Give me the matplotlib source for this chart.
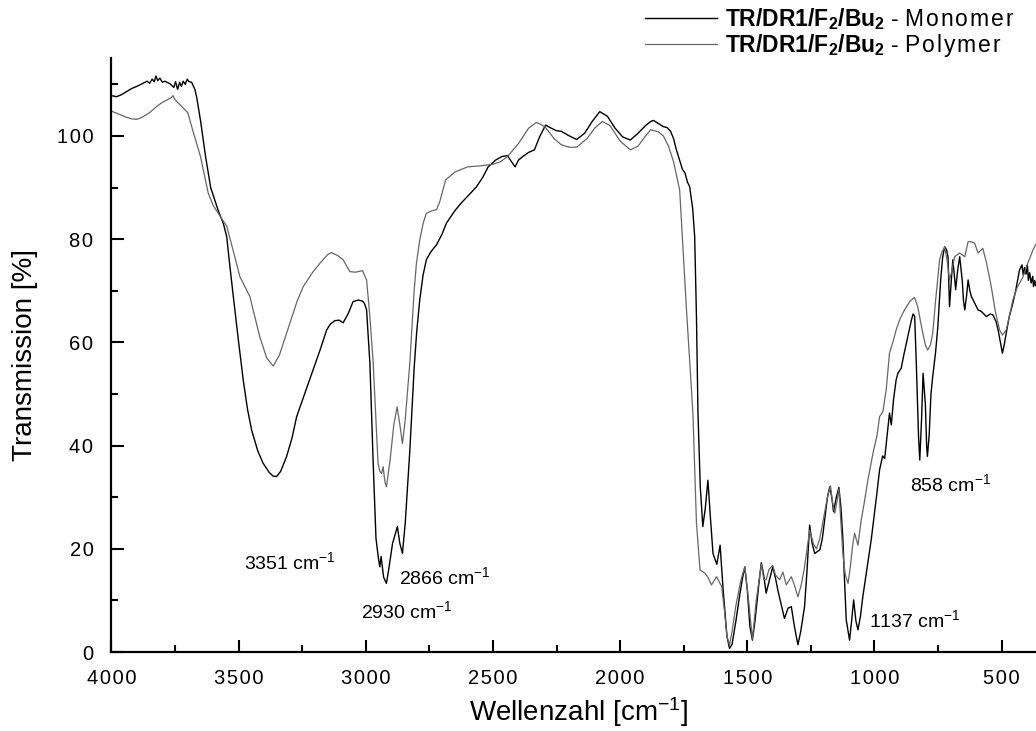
import numpy as np
import matplotlib
matplotlib.use('Agg')
import matplotlib.pyplot as plt
from matplotlib.ticker import FuncFormatter

# IR-Spektren TR/DR1/F2/Bu2, Monomer vs. Polymer
mono_wn = [4000, 3980, 3960, 3940, 3920, 3900, 3880, 3860, 3850, 3840, 3832, 3825, 3818, 3810, 3800,
           3790, 3770, 3755, 3748, 3740, 3732, 3725, 3718, 3710, 3702, 3695, 3685, 3672, 3665, 3650,
           3630, 3610, 3580, 3560, 3547, 3535, 3521,
           3500, 3482, 3465, 3449, 3425, 3404, 3380, 3365, 3351, 3335, 3312, 3290, 3272, 3255, 3240,
           3207, 3180, 3154, 3140, 3122, 3105, 3089, 3070, 3050, 3030, 3013, 3005, 2997, 2984, 2971,
           2960, 2950, 2945, 2940, 2930, 2919, 2910, 2895, 2876, 2866, 2856, 2845, 2827, 2810, 2800,
           2788, 2775, 2762, 2745, 2722, 2700, 2683, 2650, 2625, 2590, 2564, 2540, 2519, 2490, 2465,
           2443, 2430, 2413, 2400, 2383, 2360, 2337, 2316, 2293, 2275, 2250, 2232, 2200, 2171, 2140,
           2110, 2080, 2050, 2020, 1990, 1960, 1930, 1900, 1880, 1869, 1850, 1830, 1815, 1802, 1790,
           1780, 1766, 1755, 1745, 1735, 1727, 1715, 1707, 1700, 1694, 1685, 1675, 1665, 1655, 1645,
           1635, 1620, 1607, 1595, 1580, 1570, 1560, 1545, 1530, 1520, 1510, 1500, 1490, 1480, 1470,
           1455, 1445, 1436, 1426, 1413, 1400, 1390, 1380, 1368, 1354, 1340, 1327, 1315, 1301, 1290,
           1275, 1265, 1255, 1245, 1235, 1215, 1205, 1196, 1185, 1176, 1168, 1161, 1150, 1140, 1132,
           1124, 1118, 1111, 1098, 1090, 1082, 1073, 1065, 1055, 1046, 1030, 1013, 1000, 990, 980,
           968, 960, 948, 941, 934, 925, 915, 908, 895, 885, 875, 865, 855, 848, 842,
           835, 827, 822, 815, 809, 800, 795, 792, 785, 778, 771, 760, 751, 740, 732,
           724, 717, 711, 705, 698, 692, 686, 681, 673, 665, 655, 650, 645, 638, 632,
           625, 619, 605, 593, 580, 560, 545, 534, 522, 514, 505, 497, 490, 482, 470,
           456, 445, 430, 420, 415, 410, 404, 399, 395, 390, 384, 378, 375, 370, 367]
mono_t = [107.8, 107.6, 108.0, 108.6, 109.2, 109.6, 110.1, 110.6, 110.2, 111.0, 110.5, 111.6, 110.7, 111.2, 110.4,
          110.6, 110.1, 109.4, 110.5, 109.0, 110.4, 109.6, 110.6, 110.0, 111.0, 110.5, 110.4, 109.0, 107.5, 103.0,
          96.0, 90.0, 85.5, 83.0, 80.5, 75.0, 68.9,
          60.0, 52.7, 47.0, 43.0, 39.0, 36.6, 34.8, 34.1, 34.0, 35.0, 37.8, 41.5, 45.6, 48.0, 50.1,
          54.7, 58.5, 62.4, 63.5, 64.2, 64.3, 63.8, 65.5, 67.9, 68.2, 68.0, 67.5, 66.3, 56.0, 36.6,
          22.0, 18.0, 16.5, 18.5, 14.5, 13.3, 16.0, 21.0, 24.3, 21.0, 19.1, 25.0, 39.0, 55.0, 62.0,
          68.2, 73.0, 76.0, 77.5, 78.9, 81.0, 83.1, 85.5, 87.0, 88.8, 90.2, 92.0, 94.0, 95.3, 96.0,
          96.2, 95.2, 94.0, 95.3, 96.0, 96.8, 97.3, 99.9, 102.1, 101.6, 101.0, 100.9, 100.0, 99.3, 100.5,
          102.8, 104.7, 103.8, 101.5, 99.8, 99.2, 100.5, 102.0, 102.8, 103.0, 102.4, 101.8, 101.6, 100.9, 99.5,
          97.5, 95.3, 93.5, 92.8, 91.0, 90.2, 86.0, 80.5, 65.0, 46.3, 32.0, 24.3, 28.0, 33.3, 26.0,
          19.1, 17.0, 20.7, 12.0, 3.0, 0.7, 1.5, 6.0, 11.0, 14.0, 16.5, 12.0, 5.0, 2.3, 6.0,
          13.0, 17.3, 15.0, 11.4, 14.0, 16.5, 14.5, 12.0, 9.5, 6.5, 8.5, 8.8, 5.0, 1.4, 4.0,
          8.8, 16.0, 24.6, 21.0, 19.1, 19.8, 22.0, 25.6, 30.0, 32.0, 30.0, 27.2, 30.0, 31.9, 28.0,
          21.7, 14.0, 6.2, 2.3, 6.0, 10.1, 6.0, 4.3, 7.0, 10.7, 16.0, 21.7, 26.9, 31.0, 35.3,
          38.0, 37.5, 43.0, 46.3, 44.0, 49.0, 52.7, 54.0, 55.0, 57.5, 59.8, 62.0, 64.3, 65.5, 65.0,
          55.0, 42.0, 37.2, 45.0, 54.0, 48.0, 40.0, 37.9, 42.0, 50.0, 53.4, 58.0, 63.0, 72.0, 76.5,
          78.5, 78.0, 76.6, 66.9, 72.0, 76.0, 73.0, 70.2, 74.0, 76.6, 72.0, 68.0, 66.3, 69.0, 72.1,
          70.0, 68.9, 67.5, 66.3, 66.0, 65.0, 65.5, 65.3, 64.0, 62.4, 60.0, 57.9, 59.5, 61.8, 65.0,
          67.6, 70.0, 74.0, 75.0, 73.0, 74.5, 73.2, 75.0, 72.0, 73.5, 71.5, 72.8, 70.8, 72.0, 71.0]

poly_wn = [4000, 3970, 3940, 3920, 3900, 3880, 3850, 3820, 3800, 3780, 3765, 3758, 3750, 3740, 3720,
           3700, 3680, 3650, 3620, 3600, 3580, 3560, 3547, 3520, 3495, 3456, 3417, 3390, 3364, 3340,
           3320, 3299, 3270, 3246, 3210, 3181, 3150, 3135, 3110, 3089, 3063, 3040, 3013, 2997, 2984,
           2971, 2960, 2952, 2945, 2938, 2932, 2925, 2919, 2905, 2890, 2877, 2866, 2856, 2845, 2827,
           2810, 2801, 2788, 2775, 2762, 2740, 2722, 2709, 2686, 2650, 2600, 2550, 2500, 2470, 2443,
           2400, 2360, 2330, 2310, 2293, 2260, 2232, 2200, 2171, 2130, 2100, 2070, 2040, 2000, 1960,
           1930, 1900, 1880, 1850, 1830, 1810, 1790, 1766, 1740, 1714, 1700, 1686, 1667, 1655, 1641,
           1621, 1601, 1590, 1580, 1570, 1560, 1545, 1525, 1510, 1495, 1480, 1465, 1445, 1435, 1426,
           1415, 1400, 1390, 1373, 1360, 1347, 1327, 1315, 1301, 1288, 1275, 1265, 1255, 1240, 1228,
           1215, 1196, 1185, 1173, 1165, 1156, 1148, 1140, 1132, 1124, 1115, 1104, 1095, 1085, 1078,
           1065, 1052, 1040, 1026, 1006, 990, 980, 967, 954, 941, 925, 915, 900, 882, 860,
           843, 830, 815, 800, 791, 780, 771, 760, 750, 744, 735, 724, 715, 705, 695,
           685, 665, 645, 632, 620, 606, 593, 574, 560, 541, 525, 508, 497, 482, 470,
           456, 440, 416, 400, 377, 365]
poly_t = [104.8, 104.2, 103.6, 103.3, 103.2, 103.6, 104.5, 105.8, 106.5, 107.0, 107.4, 107.8, 107.0, 106.5, 105.5,
          104.5, 101.0, 96.0, 89.0, 86.5, 85.0, 83.5, 82.5, 77.5, 72.7, 68.9, 61.1, 57.0, 55.4, 57.5,
          60.5, 63.7, 68.0, 70.8, 73.5, 75.3, 77.0, 77.4, 76.8, 76.0, 73.7, 73.6, 73.9, 72.1, 65.0,
          56.0, 45.0, 36.6, 35.0, 34.6, 35.9, 33.0, 32.0, 37.0, 44.0, 47.5, 44.0, 40.4, 45.0, 56.0,
          70.0, 75.3, 79.8, 83.0, 85.0, 85.5, 85.7, 87.3, 91.5, 93.0, 94.0, 94.2, 94.5, 95.0, 96.0,
          98.5, 101.5, 102.6, 102.2, 101.6, 99.5, 98.3, 97.8, 97.8, 99.5, 101.5, 102.8, 102.0, 99.0, 97.3,
          98.0, 100.0, 101.2, 100.8, 100.0, 98.0, 95.0, 89.5, 67.0, 46.3, 25.0, 15.9, 15.3, 14.5, 13.0,
          14.6, 12.7, 8.0, 3.0, 1.4, 4.0, 9.0, 14.0, 16.5, 10.0, 2.5, 10.0, 17.0, 14.0, 14.0,
          16.0, 16.8, 15.0, 14.0, 15.5, 13.0, 14.6, 13.0, 10.7, 13.0, 16.5, 20.0, 23.6, 21.0, 20.0,
          22.0, 27.0, 30.0, 32.2, 29.0, 26.9, 29.0, 31.6, 25.0, 19.0, 15.0, 13.3, 16.5, 21.0, 23.0,
          20.7, 25.6, 29.0, 33.3, 38.5, 42.0, 45.6, 46.6, 50.8, 57.9, 60.5, 62.4, 64.5, 66.3, 68.0,
          68.7, 66.9, 63.0, 59.5, 58.5, 59.5, 61.8, 68.0, 73.0, 76.0, 77.5, 78.5, 76.0, 72.1, 74.0,
          76.6, 77.3, 76.6, 79.5, 79.5, 79.2, 77.3, 78.2, 75.5, 70.8, 66.0, 62.4, 61.4, 62.4, 65.0,
          68.2, 70.5, 72.7, 75.0, 77.9, 79.0]

x_ticks = [4000, 3500, 3000, 2500, 2000, 1500, 1000, 500]
y_ticks = [0, 20, 40, 60, 80, 100]

# Bandenbeschriftungen: (Text, x, y)
peak_labels = [('3351', 3300, 17.5), ('2930', 2840, 8.0), ('2866', 2690, 14.5),
               ('1137', 840, 6.2), ('858', 703, 32.6)]

plt.rcParams['font.family'] = ['Liberation Sans', 'DejaVu Sans']
plt.rcParams['mathtext.fontset'] = 'custom'
plt.rcParams['mathtext.rm'] = 'Liberation Sans'
plt.rcParams['mathtext.it'] = 'Liberation Sans'
plt.rcParams['mathtext.bf'] = 'Liberation Sans:bold'

HS = '\u200a'  # hair space, fuer die Sperrung


def spaced(v, pos):
    # etwas Sperrung wie im Original
    return HS.join(str(int(v)))


fig = plt.figure(figsize=(10.36, 7.31), dpi=100)
ax = fig.add_axes([0.1076, 0.108, 0.8924, 0.812])

ax.plot(mono_wn, mono_t, color='black', lw=1.0,
        label=r'$\mathbf{TR/DR1/F_2/Bu_2}$ - ' + HS.join('Monomer'))
ax.plot(poly_wn, poly_t, color='#666666', lw=0.9,
        label=r'$\mathbf{TR/DR1/F_2/Bu_2}$ - ' + HS.join('Polymer'))

ax.set_xlim(4000, 365)
ax.set_ylim(0, 115)
ax.set_xticks(x_ticks)
ax.set_yticks(y_ticks)
ax.set_xticks(np.arange(3750, 300, -500), minor=True)
ax.set_yticks(np.arange(10, 115, 20), minor=True)
ax.xaxis.set_major_formatter(FuncFormatter(spaced))
ax.yaxis.set_major_formatter(FuncFormatter(spaced))
ax.tick_params(which='both', direction='in', width=1.5, labelsize=14.5)
ax.tick_params(axis='x', which='both', pad=12)
ax.tick_params(axis='y', which='both', pad=13)
ax.tick_params(which='major', length=9)
ax.tick_params(which='minor', length=5)
for s in ['top', 'right']:
    ax.spines[s].set_visible(False)
for s in ['left', 'bottom']:
    ax.spines[s].set_linewidth(1.6)

ax.set_xlabel(r'Wellenzahl [cm$^{-1}$]', fontsize=20, va='center')
ax.xaxis.set_label_coords(0.505, -0.101)
ax.set_ylabel('Transmission [%]', fontsize=20, va='center')
ax.yaxis.set_label_coords(-0.094, 0.50)

for txt, x, y in peak_labels:
    ax.text(x, y, txt + r' cm$^{-1}$', fontsize=14, ha='center', va='center')

fig.legend(loc='upper left', bbox_to_anchor=(0.6226, 0.992), frameon=False,
           fontsize=16.5, handlelength=3.14, handletextpad=0.35, labelspacing=0.02,
           borderaxespad=0, borderpad=0)

plt.savefig('out.png', dpi=100)
